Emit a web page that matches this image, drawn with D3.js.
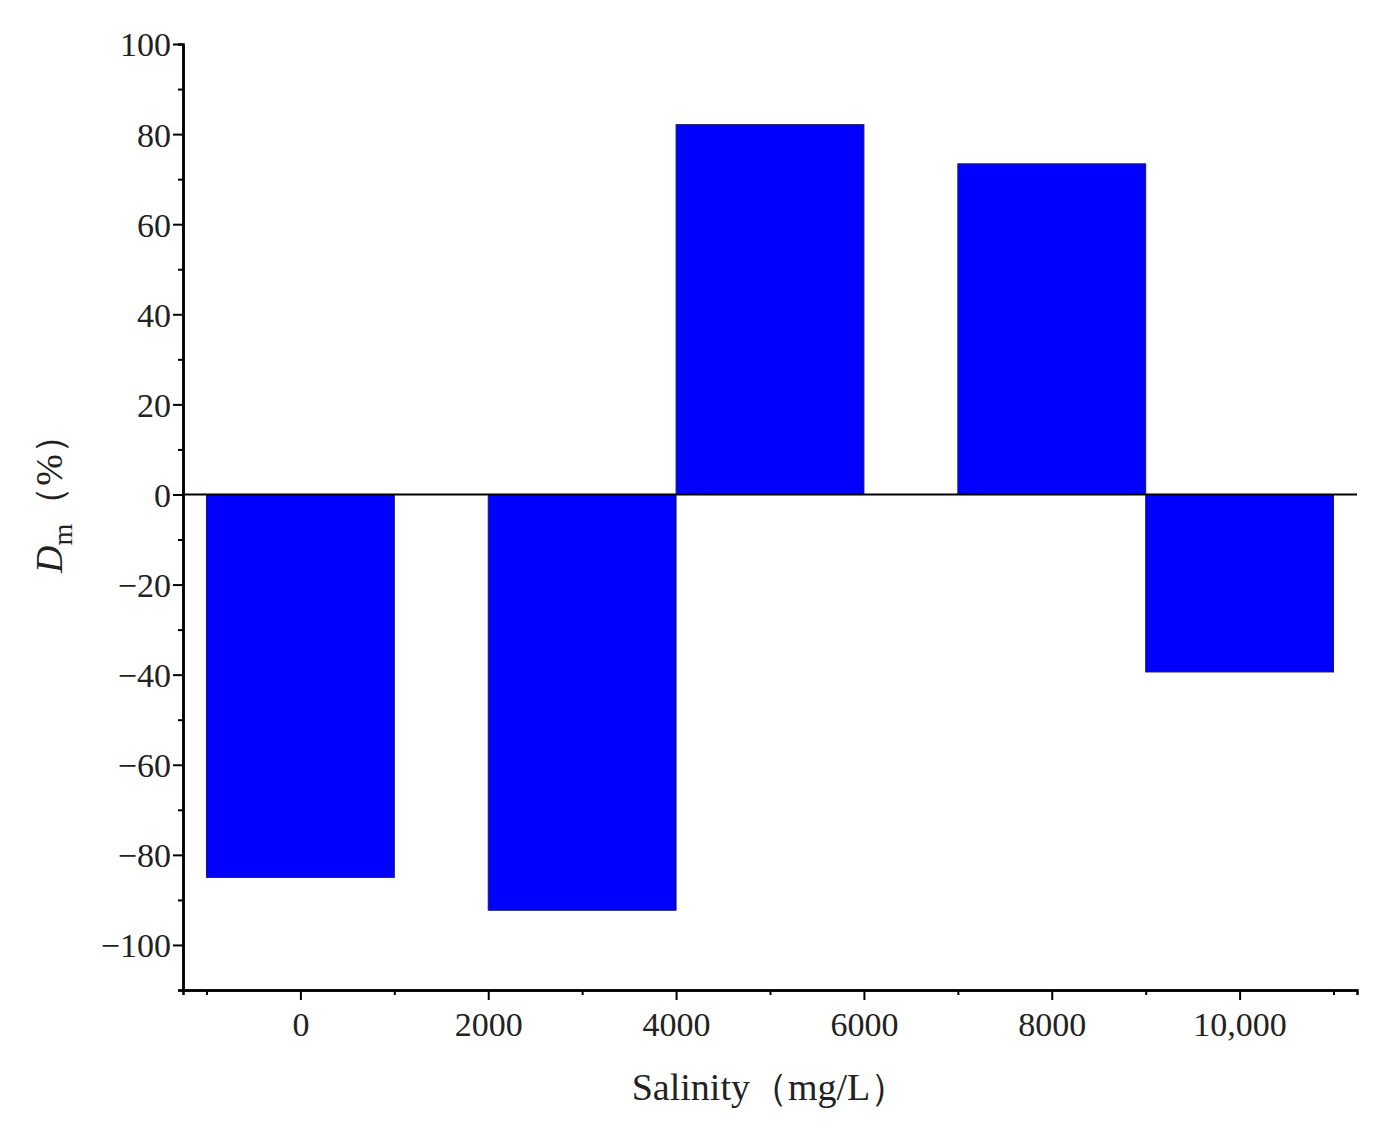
<!DOCTYPE html>
<html><head><meta charset="utf-8">
<script src="https://cdn.jsdelivr.net/npm/d3@7"></script>
<style>body{margin:0;background:#fff}text{font-family:"Liberation Serif","Times New Roman",serif;fill:#222}</style>
</head><body><div id="chart"></div>
<script>
// Data
const salinity = [0, 3000, 5000, 8000, 10000];
const binStart = [-1000, 2000, 4000, 7000, 9000];
const binEnd = [1000, 4000, 6000, 9000, 11000];
const dm = [-85, -92.3, 82.1, 73.4, -39.4];
const xTicks = [0, 2000, 4000, 6000, 8000, 10000];
const xTickLabels = ['0', '2000', '4000', '6000', '8000', '10,000'];
const yTicks = [-100, -80, -60, -40, -20, 0, 20, 40, 60, 80, 100];

const width = 1395, height = 1146;
const margin = { top: 44, right: 38, bottom: 156, left: 183 };

const svg = d3.select('#chart').append('svg')
    .attr('width', width).attr('height', height);

const x = d3.scaleLinear().domain([-1250, 11250]).range([margin.left, width - margin.right]);
const y = d3.scaleLinear().domain([-110, 100]).range([height - margin.bottom, margin.top]);

// Bars
svg.selectAll('.bar').data(dm).join('rect')
    .attr('x', (d, i) => x(binStart[i]))
    .attr('width', (d, i) => x(binEnd[i]) - x(binStart[i]))
    .attr('y', d => y(Math.max(0, d)))
    .attr('height', d => Math.abs(y(d) - y(0)))
    .attr('fill', '#0000ff')
    .attr('stroke', '#1a1a66')
    .attr('stroke-width', 1);

// Zero line
svg.append('line')
    .attr('x1', x(-1250)).attr('x2', x(11250))
    .attr('y1', y(0)).attr('y2', y(0))
    .attr('stroke', '#000').attr('stroke-width', 2);

// Y axis
const yAxis = svg.append('g').attr('transform', `translate(${margin.left},0)`);
yAxis.call(d3.axisLeft(y).tickValues(yTicks).tickSize(10).tickSizeOuter(0)
    .tickFormat(d => d < 0 ? '\u2212' + Math.abs(d) : d));
yAxis.append('g').call(d3.axisLeft(y).tickValues(d3.range(-110, 100, 20)).tickSize(5).tickFormat(''));
yAxis.selectAll('path.domain').attr('stroke-width', 2.5);
yAxis.selectAll('line').attr('stroke-width', 2);
yAxis.selectAll('text').style('font-size', '34px').attr('fill', '#222').attr('x', -12).attr('dy', '0.35em');

// X axis
const xAxis = svg.append('g').attr('transform', `translate(0,${y(-110)})`);
xAxis.call(d3.axisBottom(x).tickValues(xTicks).tickSize(10).tickSizeOuter(0)
    .tickFormat((d, i) => xTickLabels[i]));
xAxis.append('g').call(d3.axisBottom(x).tickValues([-1000, 1000, 3000, 5000, 7000, 9000, 11000]).tickSize(5).tickFormat(''));
xAxis.selectAll('path.domain').attr('stroke-width', 2.5);
xAxis.selectAll('line').attr('stroke-width', 2);
xAxis.selectAll('text').style('font-size', '34px').attr('fill', '#222').attr('y', 22);

// Axis labels
svg.append('text')
    .attr('x', (margin.left + width - margin.right) / 2).attr('y', 1100)
    .attr('text-anchor', 'middle').style('font-size', '38px')
    .text('Salinity（mg/L）');

const yl = svg.append('text')
    .attr('transform', `translate(62,${y(0)}) rotate(-90)`)
    .attr('text-anchor', 'middle').style('font-size', '38px');
yl.append('tspan').style('font-style', 'italic').text('D');
yl.append('tspan').attr('dy', 10).style('font-size', '28px').text('m');
yl.append('tspan').attr('dy', -10).text('（%）');
</script></body></html>
